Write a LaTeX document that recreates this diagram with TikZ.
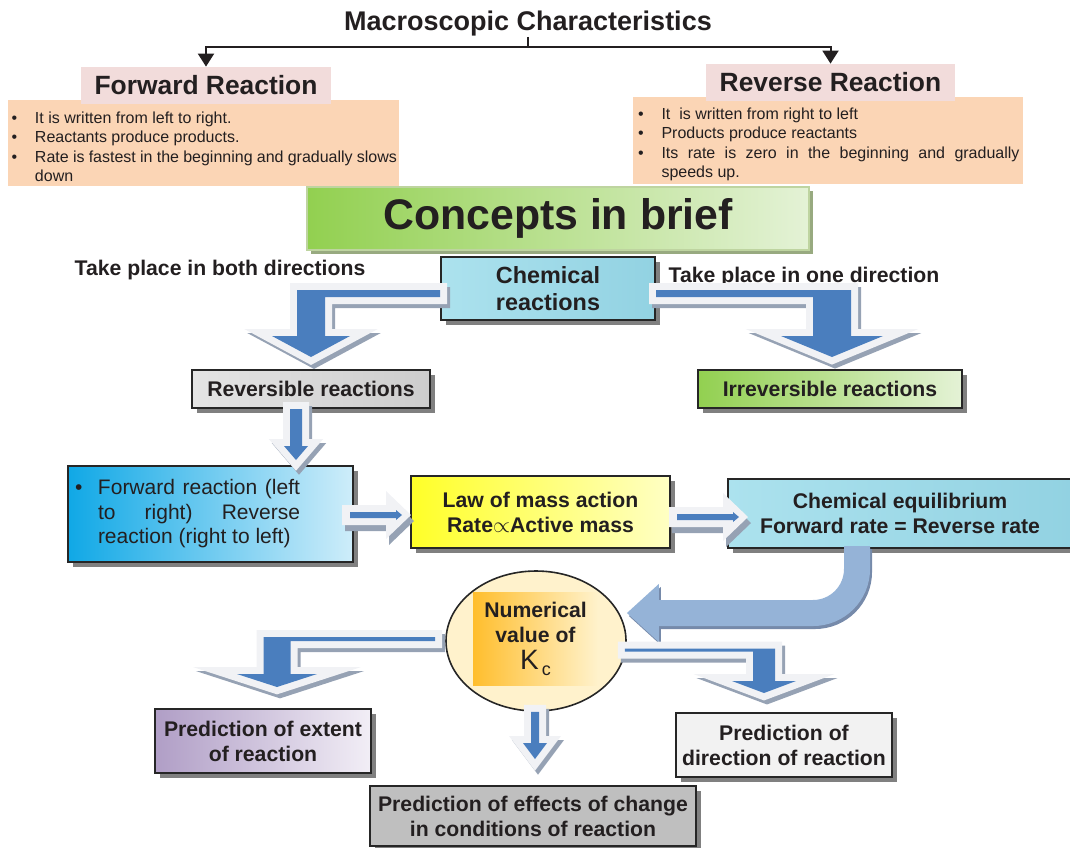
\documentclass[tikz,border=0pt]{standalone}
\usepackage{fontspec}
\setmainfont{Liberation Sans}
\usetikzlibrary{shapes.geometric, arrows.meta, positioning, calc, shadows}
\definecolor{textblack}{RGB}{35,31,32}
\definecolor{headpink}{RGB}{242,220,219}
\definecolor{listorange}{RGB}{251,213,181}
\definecolor{arrowblue}{RGB}{74,126,190}
\definecolor{arrowrim}{RGB}{241,242,245}
\definecolor{arrowshade}{RGB}{150,162,180}
\definecolor{swoopblue}{RGB}{149,179,215}
\definecolor{swoopshade}{RGB}{118,138,170}
\definecolor{leafgreen}{RGB}{146,208,80}
\definecolor{palegreen}{RGB}{228,242,214}
\definecolor{greenrim}{RGB}{190,212,160}
\definecolor{waterblue}{RGB}{172,226,238}
\definecolor{deepwater}{RGB}{146,210,226}
\definecolor{skyblue}{RGB}{16,168,230}
\definecolor{midblue}{RGB}{120,204,242}
\definecolor{paleblue}{RGB}{206,237,250}
\definecolor{lemon}{RGB}{255,255,40}
\definecolor{palelemon}{RGB}{255,255,196}
\definecolor{lilac}{RGB}{176,158,198}
\definecolor{palelilac}{RGB}{242,238,246}
\definecolor{cream}{RGB}{255,242,204}
\definecolor{amber}{RGB}{255,190,45}
\definecolor{marble}{RGB}{228,228,228}
\definecolor{darkmarble}{RGB}{205,205,205}

% bullet line with hanging indent
\newcommand{\bitem}[1]{\par\noindent\hangindent=12.5pt\hangafter=1\makebox[12.5pt][l]{\hspace{0.8pt}\textbullet}#1\par}

% fat arrow: bar from #1, bends down to tip #2
% #3 bar half width, #4 shaft half width, #5 head half width, #6 head length, #7 side (-1 left, 1 right)
\newcommand{\bentarrow}[7]{%
  \path[flowarrow]
    ($(#1)+(0,-#3)$) -- ($(#2|-#1)+(#7*#4,-#3)$) -- ($(#2)+(#7*#4,-#6)$)
    -- ($(#2)+(#7*#5,-#6)$) -- (#2) -- ($(#2)-(#7*#5,#6)$)
    -- ($(#2)-(#7*#4,#6)$) -- ($(#2|-#1)-(#7*#4,-#3)$) -- ($(#1)+(0,#3)$) -- cycle;}

% thin arrow pointing right on a wide pale plate: #3 bar half width, #4 head half width, #5 head length
\newcommand{\sidearrow}[5]{%
  \path[sideplate]
    ($(#1)+(-8,-#3-7)$) -- ($(#2)+(-16,-#3-7)$) -- ($(#2)+(-16,-24)$) -- ($(#2)+(9,0)$)
    -- ($(#2)+(-16,24)$) -- ($(#2)+(-16,#3+7)$) -- ($(#1)+(-8,#3+7)$) -- cycle;
  \path[fill=arrowblue]
    ($(#1)+(0,-#3)$) -- ($(#2)+(-#5,-#3)$) -- ($(#2)+(-#5,-#4)$) -- (#2)
    -- ($(#2)+(-#5,#4)$) -- ($(#2)+(-#5,#3)$) -- ($(#1)+(0,#3)$) -- cycle;}

\begin{document}
\begin{tikzpicture}[x=0.5pt, y=-0.5pt,
    every node/.style={text=textblack},
    heading/.style={fill=headpink, inner sep=0pt, font=\bfseries\fontsize{13.2}{15}\selectfont},
    listbox/.style={fill=listorange, align=justify, inner xsep=1.75pt, inner ysep=0pt,
      font=\fontsize{8}{9.75}\selectfont},
    card/.style={draw=black!85, line width=1pt, inner sep=0pt, align=center,
      font=\bfseries\fontsize{10.6}{12.5}\selectfont,
      drop shadow={shadow xshift=2.5pt, shadow yshift=-2.5pt, fill=black!50, opacity=1}},
    note/.style={font=\bfseries\fontsize{10.6}{12.5}\selectfont, inner sep=0pt},
    branch/.style={draw=textblack, line width=1pt, -{Triangle[width=8pt,length=6.5pt]}},
    flowarrow/.style={fill=arrowblue, line join=miter,
      preaction={draw=arrowshade, fill=arrowshade, line width=7pt, line join=miter,
        transform canvas={shift={(1.5pt,-2pt)}}},
      preaction={draw=arrowrim, fill=arrowrim, line width=7pt, line join=miter}},
    sideplate/.style={fill=arrowrim,
      preaction={fill=arrowshade, transform canvas={shift={(1.5pt,-3pt)}}}},
    swoop/.style={draw=swoopblue, line width=13pt, rounded corners=22pt,
      -{Triangle[length=16pt,width=28pt]}}]

  \useasboundingbox (0,0) rectangle (1070,847);

  % macroscopic characteristics
  \node[font=\bfseries\fontsize{13.5}{15}\selectfont, inner sep=0pt] (title) at (528,24) {Macroscopic Characteristics};

  \node[listbox, inner xsep=1pt, text width=193.5pt, minimum height=43pt] (fwdlist) at (203.5,143) {%
    \bitem{It is written from left to right.}
    \bitem{Reactants produce products.}
    \bitem{Rate is fastest in the beginning and gradually slows down}};
  \node[listbox, text width=191.5pt, minimum height=43.5pt] (revlist) at (828,140.5) {%
    \bitem{It\ \ is written from right to left}
    \bitem{Products produce reactants}
    \bitem{Its rate is zero in the beginning and gradually speeds up.}};
  \node[heading, minimum width=125pt, minimum height=18.5pt] (fwdhead) at (206,85.5) {Forward Reaction};
  \node[heading, minimum width=124.5pt, minimum height=18.5pt] (revhead) at (830.5,82.5) {Reverse Reaction};

  \coordinate (split) at (title.south |- 0,47);
  \draw[line width=1pt, draw=textblack] (title.south) -- (split);
  \draw[branch] (split) -| (fwdhead.north);
  \draw[branch] (split) -| (revhead.north);

  % concepts
  \node[draw=greenrim, line width=1pt, left color=leafgreen, right color=palegreen,
    minimum width=251pt, minimum height=31.5pt, inner sep=0pt,
    font=\bfseries\fontsize{21.4}{24}\selectfont,
    drop shadow={shadow xshift=2pt, shadow yshift=-2pt, fill=greenrim!80!black, opacity=1}]
    (concepts) at (558,218.5) {Concepts in brief};

  \node[note] (both) at (220,270) {Take place in both directions};
  \node[note] (one) at (804,277) {Take place in one direction};

  \node[card, left color=waterblue, right color=deepwater, minimum width=107pt, minimum height=31.5pt,
    font=\bfseries\fontsize{11.7}{13.5}\selectfont] (chem) at (548,288.5) {Chemical\\reactions};
  \node[card, left color=marble, right color=darkmarble, minimum width=119pt, minimum height=19pt] (rev) at (311,389) {Reversible reactions};
  \node[card, left color=leafgreen, right color=palegreen, minimum width=132pt, minimum height=19pt] (irrev) at (830,389) {Irreversible reactions};

  \node[card, left color=skyblue, middle color=midblue, right color=paleblue, minimum width=142.5pt,
    minimum height=48pt, text width=135.5pt, align=left, font=\fontsize{10.5}{12.25}\selectfont]
    (fwdrev) at (210.5,514) {\makebox[11.5pt][l]{\textbullet}\parbox[t]{101pt}{\rightskip=0pt
      \spaceskip=0pt \xspaceskip=0pt \parfillskip=0pt plus 1fil
      \hyphenpenalty=10000 \tolerance=10000
      Forward reaction (left to right) Reverse reaction (right to left)}};
  \node[card, left color=lemon, right color=palelemon, minimum width=129.5pt, minimum height=36pt]
    (law) at (540.5,512) {Law of mass action\\Rate$\propto$Active mass};
  \node[card, left color=waterblue, right color=deepwater, minimum width=172pt, minimum height=34.5pt]
    (eq) at (900,513.5) {Chemical equilibrium\\Forward rate = Reverse rate};

  % equilibrium constant
  \node[ellipse, draw=black!85, line width=0.8pt, fill=cream, minimum width=90pt, minimum height=70pt,
    inner sep=0pt] (num) at (536,641) {};
  \node[left color=amber, middle color=amber!45!cream, right color=cream, minimum width=62.5pt,
    minimum height=46.5pt, inner sep=0pt, align=center, font=\bfseries\fontsize{10.6}{12.5}\selectfont]
    (kc) at (535.5,638.5) {Numerical\\value of\\[1pt]{\mdseries\fontsize{14}{15}\selectfont K}\hspace{1.5pt}\raisebox{-3pt}{\mdseries\fontsize{9}{10}\selectfont c}};

  \node[card, left color=lilac, right color=palelilac, minimum width=108pt, minimum height=32pt]
    (extent) at (263,741) {Prediction of extent\\of reaction};
  \node[card, fill=black!5, minimum width=108pt, minimum height=32pt]
    (direction) at (784,745) {Prediction of\\direction of reaction};
  \node[card, fill=black!25, minimum width=163pt, minimum height=30pt]
    (effects) at (533,816) {Prediction of effects of change\\in conditions of reaction};

  % fat arrows
  \coordinate (a1s) at ($(chem.west)+(0,5)$);
  \coordinate (a1t) at ($(rev.north)+(0,-12)$);
  \bentarrow{a1s}{a1t}{3.5}{14}{39}{21}{-1}
  \coordinate (a2s) at ($(chem.east)+(0,5)$);
  \coordinate (a2t) at ($(irrev.north)+(2,-12)$);
  \bentarrow{a2s}{a2t}{3.5}{19}{51}{21}{1}
  \coordinate (a3s) at ($(rev.south)+(-15,0)$);
  \coordinate (a3t) at ($(a3s|-fwdrev.north)+(0,-5)$);
  \bentarrow{a3s}{a3t}{0}{6}{12}{14}{1}
  \coordinate (a4s) at ($(fwdrev.east)+(-4,1)$);
  \coordinate (a4t) at ($(law.west|-a4s)+(-8,0)$);
  \sidearrow{a4s}{a4t}{3}{5}{6}
  \coordinate (a5s) at ($(law.east)+(6,5)$);
  \coordinate (a5t) at ($(eq.west|-a5s)+(12,0)$);
  \sidearrow{a5s}{a5t}{3}{5}{6}

  \coordinate (a6s) at ($(eq.south)+(-43,-3)$);
  \coordinate (a6t) at ($(num.east)+(0,-28)$);
  \draw[swoop, draw=swoopshade, transform canvas={shift={(1pt,-1.5pt)}}] (a6s) |- (a6t);
  \draw[swoop] (a6s) |- (a6t);

  \coordinate (a7s) at ($(num.west)+(-10,-2)$);
  \coordinate (a7t) at ($(extent.north)+(14,-21)$);
  \bentarrow{a7s}{a7t}{2}{13.5}{40}{13}{-1}
  \coordinate (a8t) at ($(effects.north)+(2,-26)$);
  \coordinate (a8s) at (a8t|-num.south);
  \bentarrow{a8s}{a8t}{0}{4}{12}{16}{1}
  \coordinate (a9s) at ($(num.east)+(-2,9)$);
  \coordinate (a9t) at ($(direction.north)+(-20,-19)$);
  \bentarrow{a9s}{a9t}{1.5}{11}{32}{12}{1}
\end{tikzpicture}
\end{document}
